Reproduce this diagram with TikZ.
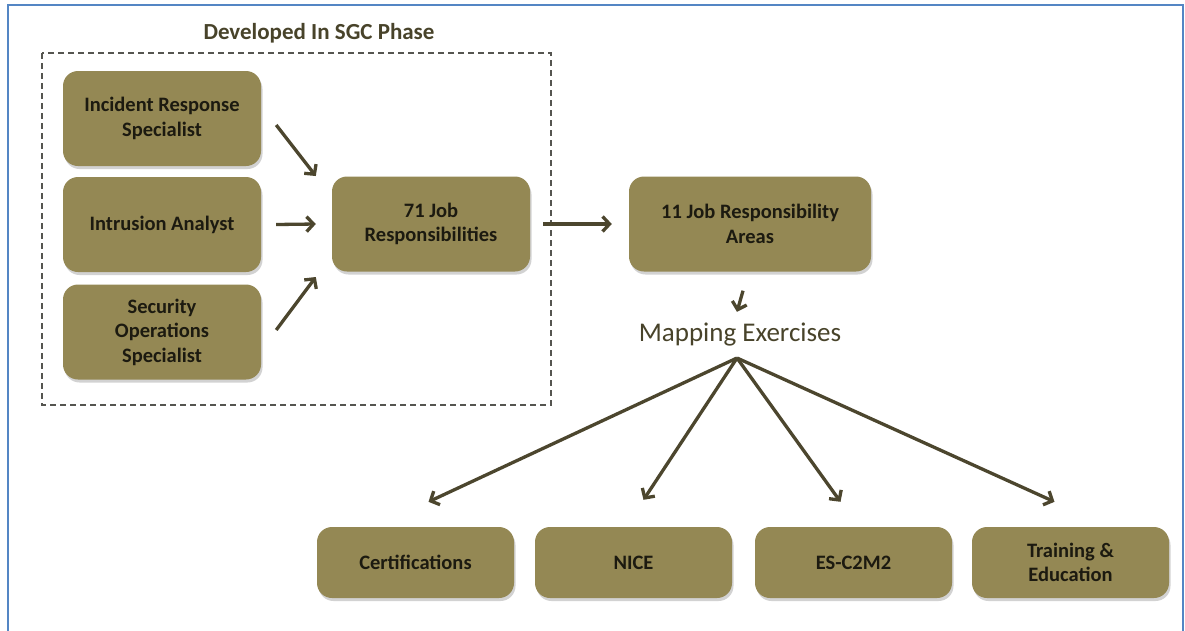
\documentclass[tikz,border=0pt]{standalone}
\usepackage{fontspec}
\setmainfont{Carlito}
\usetikzlibrary{arrows.meta,shadows}
\definecolor{boxfill}{RGB}{148,136,84}
\definecolor{boxtext}{RGB}{28,26,16}
\definecolor{olivetext}{RGB}{72,67,42}
\definecolor{arrowc}{RGB}{76,70,46}
\definecolor{framec}{RGB}{84,134,196}
\definecolor{dashc}{RGB}{85,85,80}
\tikzset{
  jobbox/.style={draw=none, fill=boxfill, rounded corners=15pt, align=center,
    text=boxtext, font=\fontsize{20.5}{24.5}\selectfont\bfseries,
    inner sep=0pt, minimum width=198pt, minimum height=95pt,
    drop shadow={opacity=0.35, shadow xshift=1.5pt, shadow yshift=-3pt}},
  lowbox/.style={jobbox, minimum width=197pt, minimum height=71pt},
  arr/.style={draw=arrowc, line width=3.3pt, -{Straight Barb[length=7pt,width=15pt]}},
}
\begin{document}
\begin{tikzpicture}[x=1pt,y=-1pt]
\useasboundingbox (0,0) rectangle (1185,630);
\fill[white] (0,0) rectangle (1185,630);
% outer blue frame
\draw[framec, line width=2pt] (8,631) -- (8,5) -- (1183,5) -- (1183,631);
% title
\node[font=\fontsize{23}{27}\selectfont\bfseries, text=olivetext] (title) at (319,33) {Developed In SGC Phase};
% dashed region
\draw[dashc, line width=1.4pt, dash pattern=on 6pt off 4pt] (42,53) rectangle (551,405);
% boxes
\node[jobbox] (b1) at (162,118.5) {Incident Response\\Specialist};
\node[jobbox] (b2) at (162,224.5) {Intrusion Analyst};
\node[jobbox] (b3) at (162,332) {Security\\Operations\\Specialist};
\node[jobbox] (b71) at (431,224) {71 Job\\Responsibilities};
\node[jobbox, minimum width=242pt] (b11) at (750,224) {11 Job Responsibility\\Areas};
\node[font=\fontsize{27}{31}\selectfont, text=olivetext] (map) at (740,335) {Mapping Exercises};
\coordinate (hub) at (737,358);
\node[lowbox] (cert) at (415.5,562.5) {Certifications};
\node[lowbox] (nice) at (633.5,562.5) {NICE};
\node[lowbox] (es) at (853.5,562.5) {ES-C2M2};
\node[lowbox] (te) at (1070.5,562.5) {Training \&\\Education};
% arrows
\draw[arr] ([xshift=15pt,yshift=-6.5pt]b1.east) -- ([xshift=-16pt,yshift=48pt]b71.west);
\draw[arr] ([xshift=15pt]b2.east) -- ([xshift=-16pt]b71.west);
\draw[arr] ([xshift=15pt,yshift=2pt]b3.east) -- ([xshift=-16pt,yshift=-53pt]b71.west);
\draw[arr] ([xshift=13pt]b71.east) -- ([xshift=-17pt]b11.west);
\draw[arr] ([xshift=-7pt,yshift=-19pt]b11.south) -- ([xshift=-3pt,yshift=8pt]map.north);
\draw[arr] (hub) -- ([xshift=13pt,yshift=25pt]cert.north);
\draw[arr] (hub) -- ([xshift=10pt,yshift=27pt]nice.north);
\draw[arr] (hub) -- ([xshift=-13pt,yshift=25pt]es.north);
\draw[arr] (hub) -- ([xshift=-16pt,yshift=25pt]te.north);
\end{tikzpicture}
\end{document}
